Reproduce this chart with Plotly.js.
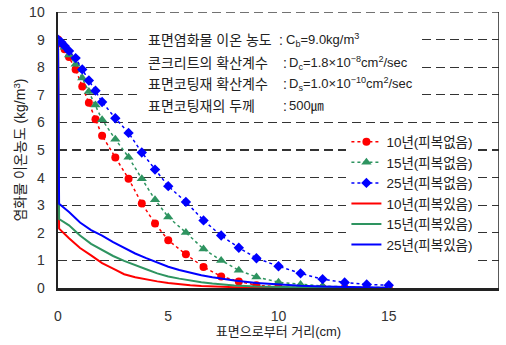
<!DOCTYPE html>
<html>
<head>
<meta charset="utf-8">
<script src="https://cdn.plot.ly/plotly-3.0.1.min.js"></script>
<style>html,body{margin:0;padding:0;background:#fff;}#chart{width:506px;height:345px;}</style>
</head>
<body>
<div id="chart"></div>
<script>
// Distance from surface (cm) for uncoated (dotted, marker) series
const xNoCoat = [0,0.15,0.3,0.5,0.8,1.1,1.4,1.7,2.0,2.6,3.2,3.8,4.4,5.0,5.8,6.6,7.4,8.2,9.0,10,11,12,13,14,15];
const y10NoCoat = [9.0,8.85,8.65,8.37,7.92,7.3,6.71,6.11,5.52,4.73,3.96,3.06,2.34,1.73,1.22,0.76,0.42,0.24,0.1,0.04,0.01,0,0,0,0];
const y15NoCoat = [9.0,8.87,8.72,8.44,8.11,7.61,7.12,6.63,6.1,5.39,4.74,3.96,3.2,2.57,2.01,1.41,1.0,0.64,0.4,0.21,0.13,0.07,0.04,0.02,0.01];
const y25NoCoat = [9.0,8.9,8.77,8.59,8.33,7.92,7.52,7.15,6.74,6.15,5.62,4.91,4.29,3.69,3.12,2.45,1.9,1.46,1.08,0.79,0.53,0.32,0.2,0.13,0.1];

// Distance (cm) for coated (solid line) series
const xCoat = [0,0.05,0.5,1,1.5,2,2.5,3,3.5,4,4.5,5,5.5,6,6.5,7,7.5,8,9,10,11,12,13,14,15];
const y10Coat = [9,2.15,1.8,1.45,1.18,0.9,0.7,0.5,0.39,0.31,0.24,0.18,0.13,0.1,0.07,0.05,0.04,0.03,0.01,0.01,0,0,0,0,0];
const y15Coat = [9,2.5,2.27,1.9,1.6,1.38,1.16,0.98,0.82,0.68,0.53,0.42,0.34,0.27,0.21,0.16,0.12,0.09,0.05,0.03,0.02,0.01,0.01,0,0];
const y25Coat = [9,3.05,2.75,2.37,2.1,1.9,1.66,1.44,1.25,1.08,0.92,0.77,0.65,0.55,0.46,0.39,0.33,0.27,0.18,0.12,0.08,0.05,0.03,0.02,0.01];

const seriesNames = ['10년(피복없음)','15년(피복없음)','25년(피복없음)','10년(피복있음)','15년(피복있음)','25년(피복있음)'];
const xTicks = [0,5,10,15,20];
const yTicks = [0,1,2,3,4,5,6,7,8,9,10];

const infoLabels = ['표면염화물 이온 농도','콘크리트의 확산계수','표면코팅재 확산계수','표면코팅재의 두께'];
const infoValues = ['C<sub>b</sub>=9.0kg/m<sup>3</sup>',
  'D<sub>c</sub>=1.8×10<sup>−8</sup>cm<sup>2</sup>/sec',
  'D<sub>s</sub>=1.0×10<sup>−10</sup>cm<sup>2</sup>/sec',
  '500㎛'];

const RED = '#ff0000', GREEN = '#2e9460', BLUE = '#0000ff';
const FONT = 'Liberation Sans, Noto Sans CJK KR, sans-serif';

const traces = [
  {x:xNoCoat, y:y10NoCoat, name:seriesNames[0], mode:'lines+markers', line:{color:RED, dash:'dot', width:1.5}, marker:{symbol:'circle', size:8, color:RED}},
  {x:xNoCoat, y:y15NoCoat, name:seriesNames[1], mode:'lines+markers', line:{color:GREEN, dash:'dot', width:1.5}, marker:{symbol:'triangle-up', size:9, color:GREEN}},
  {x:xNoCoat, y:y25NoCoat, name:seriesNames[2], mode:'lines+markers', line:{color:BLUE, dash:'dot', width:1.5}, marker:{symbol:'diamond', size:8, color:BLUE}},
  {x:xCoat, y:y10Coat, name:seriesNames[3], mode:'lines', line:{color:RED, width:2}},
  {x:xCoat, y:y15Coat, name:seriesNames[4], mode:'lines', line:{color:GREEN, width:2}},
  {x:xCoat, y:y25Coat, name:seriesNames[5], mode:'lines', line:{color:BLUE, width:2}}
];

const infoY = [9.0, 8.15, 7.4, 6.6];
const colonX = [9.95, 10.1, 10.1, 10.1];
const annotations = [];
infoLabels.forEach((t,i)=>{
  annotations.push({xref:'x', yref:'y', x:4.0, y:infoY[i], xanchor:'left', yanchor:'middle', text:t, showarrow:false, font:{family:FONT, size:14, color:'#222'}});
  annotations.push({xref:'x', yref:'y', x:colonX[i], y:infoY[i], xanchor:'left', yanchor:'middle', text:':', showarrow:false, font:{family:FONT, size:14, color:'#222'}});
  annotations.push({xref:'x', yref:'y', x:colonX[i]+0.28, y:infoY[i], xanchor:'left', yanchor:'middle', text:infoValues[i], showarrow:false, font:{family:FONT, size:13, color:'#222'}});
});

const layout = {
  width:506, height:345,
  margin:{l:58, r:7, t:12, b:57},
  paper_bgcolor:'#fff', plot_bgcolor:'#fff',
  font:{family:FONT, size:13, color:'#222'},
  showlegend:true,
  legend:{x:0.654, y:0.585, xanchor:'left', yanchor:'top', bgcolor:'#fff', borderwidth:0, font:{family:FONT, size:13.5, color:'#222'}, tracegroupgap:0},
  xaxis:{range:[0,20], tickvals:xTicks, showgrid:false, zeroline:false, showline:true, linecolor:'#222', linewidth:2.5,
    ticks:'', tickfont:{family:FONT, size:14, color:'#333'}, ticklabelstandoff:14,
    title:{text:'표면으로부터 거리(cm)', font:{family:FONT, size:13, color:'#222'}, standoff:4}},
  yaxis:{range:[0,10], tickvals:yTicks, showgrid:true, gridcolor:'#333', gridwidth:1.2, griddash:'9px,5px', zeroline:false,
    showline:true, linecolor:'#222', linewidth:2.5, ticks:'', tickfont:{family:FONT, size:14, color:'#333'}, ticklabelstandoff:8,
    title:{text:'염화물 이온농도 (kg/m<sup>3</sup>)', font:{family:FONT, size:14, color:'#222'}, standoff:0}},
  shapes:[
    {type:'rect', xref:'x', yref:'y', x0:3.8, x1:16.3, y0:6.3, y1:9.42, fillcolor:'#fff', line:{width:0}, layer:'between'},
    {type:'line', xref:'x', yref:'y', x0:0, x1:20, y0:10, y1:10, line:{color:'#444', width:1.5, dash:'9px,5px'}},
    {type:'line', xref:'x', yref:'y', x0:20, x1:20, y0:0, y1:10, line:{color:'#222', width:1.5}}
  ],
  annotations:annotations
};

Plotly.newPlot('chart', traces, layout, {staticPlot:true, displayModeBar:false});
</script>
</body>
</html>
